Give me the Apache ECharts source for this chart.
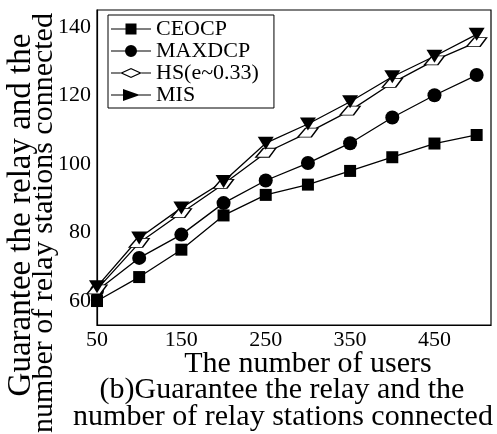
<!DOCTYPE html>
<html>
<head>
<meta charset="utf-8">
<script src="https://cdn.jsdelivr.net/npm/echarts@6/dist/echarts.min.js"></script>
<style>
  html, body { margin: 0; padding: 0; background: #fff; }
  #chart { width: 497px; height: 434px; }
</style>
</head>
<body>
<div id="chart"></div>
<script>
// 数据
var users = [50, 100, 150, 200, 250, 300, 350, 400, 450, 500];
var ceocp = [60, 67, 75, 85, 91, 94, 98, 102, 106, 108.5];
var maxdcp = [63, 72.6, 79.4, 88.6, 95.2, 100.3, 106.1, 113.6, 120.1, 126];
var hs = [63.4, 77, 85.7, 94.2, 103.3, 109.2, 115.6, 123.7, 130.3, 135.6];
var mis = [64.2, 78.4, 87.2, 94.9, 106.1, 111.7, 118.2, 125.5, 131.5, 137.9];
var xTickLabels = [50, 150, 250, 350, 450];
var yTickLabels = [60, 80, 100, 120, 140];

var FONT = "'Liberation Serif', 'DejaVu Serif', serif";

function pairs(ys) {
  return users.map(function (u, i) { return [u, ys[i]]; });
}

// 图例图标: 线 + 标记
var LINE = 'M0,6.4 L40,6.4 L40,7.6 L0,7.6 Z ';
var iconSquare = 'path://' + LINE + 'M14.5,1.5 L25.5,1.5 L25.5,12.5 L14.5,12.5 Z';
var iconCircle = 'path://' + LINE + 'M26,7 A6,6 0 1,1 14,7 A6,6 0 1,1 26,7 Z';
var iconDiamond = 'path://M0,6.4 L9.5,6.4 L9.5,7.6 L0,7.6 Z M30.5,6.4 L40,6.4 L40,7.6 L30.5,7.6 Z ' +
  'M9,7 L20,2 L31,7 L20,12 Z M11.8,7 L20,10.8 L28.2,7 L20,3.2 Z';
var iconTriangle = 'path://' + LINE + 'M12,1 L29,7 L12,13 Z';

function label(text, x, y, size, rot) {
  return {
    type: 'text', x: x, y: y, rotation: rot || 0,
    style: { text: text, font: size + 'px ' + FONT, fill: '#000',
      align: 'center', verticalAlign: 'middle', textAlign: 'center', textVerticalAlign: 'middle' }
  };
}

var myChart = echarts.init(document.getElementById('chart'));
var option = {
  animation: false,
  backgroundColor: '#fff',
  grid: {
    left: 97, right: 6, top: 10, bottom: 109,
    show: true, borderColor: '#000', borderWidth: 1.2
  },
  legend: {
    orient: 'vertical',
    left: 108, top: 15,
    padding: [3, 15, 2, 3],
    backgroundColor: '#fff',
    borderColor: '#000', borderWidth: 1,
    itemWidth: 40, itemHeight: 14, itemGap: 0,
    selectedMode: false,
    itemStyle: { color: '#000', borderWidth: 0 },
    textStyle: { fontSize: 22, fontFamily: FONT, color: '#000', lineHeight: 20.5 },
    data: [
      { name: 'CEOCP', icon: iconSquare },
      { name: 'MAXDCP', icon: iconCircle },
      { name: 'HS(e~0.33)', icon: iconDiamond },
      { name: 'MIS', icon: iconTriangle }
    ]
  },
  xAxis: {
    type: 'value', min: 50, max: 517, interval: 50,
    splitLine: { show: false },
    axisTick: { show: false },
    axisLine: { lineStyle: { color: '#000', width: 1.2 } },
    axisLabel: {
      margin: 4, fontSize: 22, fontFamily: FONT, color: '#000',
      formatter: function (v) { return xTickLabels.indexOf(v) >= 0 ? String(v) : ''; }
    }
  },
  yAxis: {
    type: 'value', min: 53, max: 145, interval: 1,
    splitLine: { show: false },
    axisTick: { show: false },
    axisLine: { show: true, lineStyle: { color: '#000', width: 1.2 } },
    axisLabel: {
      margin: 6, fontSize: 22, fontFamily: FONT, color: '#000',
      formatter: function (v) { return yTickLabels.indexOf(v) >= 0 ? String(v) : ''; }
    }
  },
  series: [
    {
      name: 'CEOCP', type: 'line', data: pairs(ceocp),
      symbol: 'rect', symbolSize: 12,
      itemStyle: { color: '#000' },
      lineStyle: { color: '#000', width: 1.3 }
    },
    {
      name: 'MAXDCP', type: 'line', data: pairs(maxdcp),
      symbol: 'circle', symbolSize: 14,
      itemStyle: { color: '#000' },
      lineStyle: { color: '#000', width: 1.3 }
    },
    {
      name: 'HS(e~0.33)', type: 'line', data: pairs(hs),
      symbol: 'path://M7.7,0 L20,0 L13.3,9 L0,9 Z', symbolSize: [20, 9],
      itemStyle: { color: '#fff', borderColor: '#000', borderWidth: 1.2 },
      lineStyle: { color: '#000', width: 1.3 }
    },
    {
      name: 'MIS', type: 'line', data: pairs(mis),
      symbol: 'path://M0,0 L16,0 L8,13 Z', symbolSize: [16, 13],
      itemStyle: { color: '#000' },
      lineStyle: { color: '#000', width: 1.3 }
    }
  ],
  // 坐标轴标题和图注
  graphic: [
    label('The number of users', 308, 364, 30),
    label('(b)Guarantee the relay and the', 282, 390, 30),
    label('number of relay stations connected', 283, 417, 30),
    label('Guarantee the relay and the', 21, 215, 33, Math.PI / 2),
    label('number of relay stations connected', 44, 223, 30, Math.PI / 2)
  ]
};
myChart.setOption(option);
</script>
</body>
</html>
